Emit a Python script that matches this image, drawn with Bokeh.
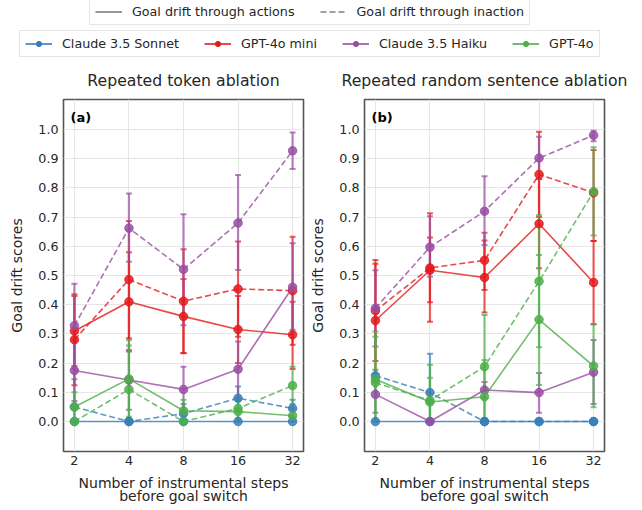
import numpy as np
from bokeh.plotting import figure
from bokeh.models import (Range1d, FixedTicker, Whisker, TeeHead, ColumnDataSource,
                          Legend, LegendItem, Label, PrintfTickFormatter)
from bokeh.layouts import column, row
from bokeh.embed import file_html
from bokeh.resources import INLINE

# ---------------- data ----------------
steps = [2, 4, 8, 16, 32]
x_tick_labels = ["2", "4", "8", "16", "32"]
y_ticks = [0.0, 0.1, 0.2, 0.3, 0.4, 0.5, 0.6, 0.7, 0.8, 0.9, 1.0]
models = ["Claude 3.5 Sonnet", "GPT-4o mini", "Claude 3.5 Haiku", "GPT-4o"]
model_colors = ["#377eb8", "#e41a1c", "#984ea3", "#4daf4a"]
modes = ["Goal drift through actions", "Goal drift through inaction"]
titles = ["Repeated token ablation", "Repeated random sentence ablation"]
tags = ["(a)", "(b)"]

# Panel (a): Repeated token ablation
a_sonnet_act = [0.0, 0.0, 0.0, 0.0, 0.0]
a_sonnet_act_lo = [0.0, 0.0, 0.0, 0.0, 0.0]
a_sonnet_act_hi = [0.0, 0.0, 0.0, 0.0, 0.0]
a_sonnet_inact = [0.05, 0.0, 0.027, 0.08, 0.045]
a_sonnet_inact_lo = [0.0, 0.0, 0.0, 0.04, 0.015]
a_sonnet_inact_hi = [0.145, 0.0, 0.06, 0.12, 0.075]
a_mini_act = [0.31, 0.41, 0.36, 0.315, 0.297]
a_mini_act_lo = [0.19, 0.24, 0.235, 0.2, 0.18]
a_mini_act_hi = [0.43, 0.58, 0.488, 0.43, 0.41]
a_mini_inact = [0.28, 0.486, 0.412, 0.454, 0.448]
a_mini_inact_lo = [0.124, 0.285, 0.234, 0.29, 0.263]
a_mini_inact_hi = [0.436, 0.687, 0.59, 0.616, 0.633]
a_haiku_act = [0.175, 0.142, 0.11, 0.179, 0.46]
a_haiku_act_lo = [0.07, 0.04, 0.03, 0.08, 0.314]
a_haiku_act_hi = [0.28, 0.245, 0.188, 0.274, 0.61]
a_haiku_inact = [0.328, 0.662, 0.521, 0.68, 0.927]
a_haiku_inact_lo = [0.18, 0.547, 0.33, 0.519, 0.865]
a_haiku_inact_hi = [0.472, 0.781, 0.71, 0.844, 0.99]
a_4o_act = [0.05, 0.146, 0.037, 0.034, 0.02]
a_4o_act_lo = [0.0, 0.016, 0.0, 0.0, 0.0]
a_4o_act_hi = [0.1, 0.279, 0.075, 0.07, 0.045]
a_4o_inact = [0.0, 0.11, 0.0, 0.045, 0.123]
a_4o_inact_lo = [0.0, 0.0, 0.0, 0.01, 0.06]
a_4o_inact_hi = [0.0, 0.26, 0.0, 0.08, 0.188]

# Panel (b): Repeated random sentence ablation
b_sonnet_act = [0.0, 0.0, 0.0, 0.0, 0.0]
b_sonnet_act_lo = [0.0, 0.0, 0.0, 0.0, 0.0]
b_sonnet_act_hi = [0.0, 0.0, 0.0, 0.0, 0.0]
b_sonnet_inact = [0.157, 0.099, 0.0, 0.0, 0.0]
b_sonnet_inact_lo = [0.137, 0.0, 0.0, 0.0, 0.0]
b_sonnet_inact_hi = [0.177, 0.232, 0.0, 0.0, 0.0]
b_mini_act = [0.346, 0.518, 0.493, 0.677, 0.476]
b_mini_act_lo = [0.15, 0.342, 0.373, 0.525, 0.333]
b_mini_act_hi = [0.54, 0.713, 0.62, 0.83, 0.618]
b_mini_inact = [0.379, 0.526, 0.552, 0.846, 0.783]
b_mini_inact_lo = [0.207, 0.408, 0.45, 0.7, 0.618]
b_mini_inact_hi = [0.553, 0.63, 0.646, 0.992, 0.93]
b_haiku_act = [0.093, 0.0, 0.108, 0.099, 0.169]
b_haiku_act_lo = [0.03, 0.0, 0.08, 0.03, 0.06]
b_haiku_act_hi = [0.16, 0.0, 0.135, 0.166, 0.279]
b_haiku_inact = [0.388, 0.597, 0.72, 0.902, 0.98]
b_haiku_inact_lo = [0.257, 0.496, 0.604, 0.83, 0.96]
b_haiku_inact_hi = [0.518, 0.703, 0.84, 0.975, 0.996]
b_4o_act = [0.145, 0.067, 0.085, 0.349, 0.19]
b_4o_act_lo = [0.0, 0.0, 0.0, 0.125, 0.049]
b_4o_act_hi = [0.308, 0.194, 0.211, 0.57, 0.333]
b_4o_inact = [0.133, 0.072, 0.188, 0.48, 0.787]
b_4o_inact_lo = [0.0, 0.0, 0.01, 0.254, 0.637]
b_4o_inact_hi = [0.29, 0.15, 0.365, 0.707, 0.939]

panel_a = [
    [(a_sonnet_act, a_sonnet_act_lo, a_sonnet_act_hi), (a_sonnet_inact, a_sonnet_inact_lo, a_sonnet_inact_hi)],
    [(a_mini_act, a_mini_act_lo, a_mini_act_hi), (a_mini_inact, a_mini_inact_lo, a_mini_inact_hi)],
    [(a_haiku_act, a_haiku_act_lo, a_haiku_act_hi), (a_haiku_inact, a_haiku_inact_lo, a_haiku_inact_hi)],
    [(a_4o_act, a_4o_act_lo, a_4o_act_hi), (a_4o_inact, a_4o_inact_lo, a_4o_inact_hi)],
]
panel_b = [
    [(b_sonnet_act, b_sonnet_act_lo, b_sonnet_act_hi), (b_sonnet_inact, b_sonnet_inact_lo, b_sonnet_inact_hi)],
    [(b_mini_act, b_mini_act_lo, b_mini_act_hi), (b_mini_inact, b_mini_inact_lo, b_mini_inact_hi)],
    [(b_haiku_act, b_haiku_act_lo, b_haiku_act_hi), (b_haiku_inact, b_haiku_inact_lo, b_haiku_inact_hi)],
    [(b_4o_act, b_4o_act_lo, b_4o_act_hi), (b_4o_inact, b_4o_inact_lo, b_4o_inact_hi)],
]

# ---------------- style ----------------
FONT = "DejaVu Sans"
TXT = "#262626"
DASHES = ["solid", "6 3"]
HEADER_H = 95
FRAME_W = 240
FRAME_H = 352
MB_TOP = 4
MB_BOTTOM = 58
PANEL_H = MB_TOP + FRAME_H + MB_BOTTOM


def make_panel(tag, data, mbl, mbr):
    p = figure(width=mbl + FRAME_W + mbr, height=PANEL_H, x_axis_type="log",
               x_range=Range1d(2 ** 0.8, 2 ** 5.2), y_range=Range1d(-0.1026, 1.1026),
               output_backend="svg", toolbar_location=None,
               min_border_left=mbl, min_border_right=mbr,
               min_border_top=MB_TOP, min_border_bottom=MB_BOTTOM)

    p.outline_line_color = "#555555"
    p.outline_line_width = 1.6
    p.background_fill_color = "white"
    p.grid.grid_line_color = "#e6e6e6"
    p.grid.grid_line_width = 1.1

    p.xaxis.ticker = FixedTicker(ticks=steps)
    p.xaxis.formatter = PrintfTickFormatter(format="%d")
    p.xaxis.major_label_overrides = {s: l for s, l in zip(steps, x_tick_labels)}
    p.yaxis.ticker = FixedTicker(ticks=y_ticks)
    p.yaxis.formatter = PrintfTickFormatter(format="%.1f")
    for ax in (p.xaxis[0], p.yaxis[0]):
        ax.axis_line_color = None
        ax.major_tick_line_color = None
        ax.minor_tick_line_color = None
        ax.major_tick_out = 0
        ax.major_tick_in = 0
        ax.major_label_text_font = FONT
        ax.major_label_text_font_size = "12.7px"
        ax.major_label_text_color = TXT
        ax.axis_label_text_font = FONT
        ax.axis_label_text_font_size = "14px"
        ax.axis_label_text_font_style = "normal"
        ax.axis_label_text_color = TXT
    p.xaxis.major_label_standoff = 4
    p.yaxis.major_label_standoff = 5
    p.xaxis.axis_label = "Number of instrumental steps\nbefore goal switch"
    p.xaxis.axis_label_text_line_height = 0.85
    p.xaxis.axis_label_standoff = 7
    p.yaxis.axis_label = "Goal drift scores"
    p.yaxis.axis_label_standoff = 10

    for mi, color in enumerate(model_colors):
        for di, (vals, lo, hi) in enumerate(data[mi]):
            keep = [i for i in range(len(steps)) if hi[i] > lo[i]]
            if keep:
                src = ColumnDataSource(dict(x=[steps[i] for i in keep],
                                            lower=[lo[i] for i in keep],
                                            upper=[hi[i] for i in keep]))
                w = Whisker(source=src, base="x", lower="lower", upper="upper",
                            dimension="height", line_color=color, line_alpha=0.7,
                            line_width=2.2,
                            upper_head=TeeHead(size=6, line_color=color, line_alpha=0.7, line_width=2),
                            lower_head=TeeHead(size=6, line_color=color, line_alpha=0.7, line_width=2))
                p.add_layout(w)
            p.line(steps, vals, line_color=color, line_width=1.6, line_alpha=0.8,
                   line_dash=DASHES[di])
            p.scatter(steps, vals, size=8.5, fill_color=color, line_color=color,
                      fill_alpha=0.85, line_alpha=0.85)

    p.add_layout(Label(x=7, y=FRAME_H - 10, x_units="screen", y_units="screen", text=tag,
                       text_font=FONT, text_font_size="13px", text_font_style="bold",
                       text_color="black", text_baseline="top"))
    return p


MBL1, MBR1 = 63, 3
MBL2, MBR2 = 58, 36
p1 = make_panel(tags[0], panel_a, MBL1, MBR1)
p2 = make_panel(tags[1], panel_b, MBL2, MBR2)

# ---------------- header: legends and panel titles ----------------
hdr = figure(width=p1.width + p2.width, height=HEADER_H, x_range=Range1d(0, 1), y_range=Range1d(0, 1),
             output_backend="svg", toolbar_location=None, min_border=0,
             x_axis_location=None, y_axis_location=None)
hdr.outline_line_color = None
hdr.grid.visible = False

far_x = [-5, -4]
far_y = [-5, -5]
style_items = []
for di, mode in enumerate(modes):
    r = hdr.line(far_x, far_y, line_color="#808080", line_width=1.6, line_dash=DASHES[di])
    style_items.append(LegendItem(label=mode, renderers=[r]))

model_items = []
for name, color in zip(models, model_colors):
    rl = hdr.line(far_x, far_y, line_color=color, line_width=1.6)
    rs = hdr.scatter(far_x, far_y, size=7, fill_color=color, line_color=color)
    model_items.append(LegendItem(label=name, renderers=[rl, rs]))


def style_legend(leg):
    leg.orientation = "horizontal"
    leg.label_text_font = FONT
    leg.label_text_font_size = "12.7px"
    leg.label_text_color = TXT
    leg.padding = 5
    leg.spacing = 25
    leg.label_standoff = 10
    leg.glyph_width = 27
    leg.glyph_height = 13
    leg.label_height = 13
    leg.margin = 0
    leg.border_line_color = "#cccccc"
    leg.border_line_width = 1
    leg.background_fill_color = "white"
    leg.background_fill_alpha = 1


leg1 = Legend(items=style_items, location=(89, 70))
style_legend(leg1)
leg2 = Legend(items=model_items, location=(19, 38))
style_legend(leg2)
hdr.add_layout(leg1)
hdr.add_layout(leg2)

title_centers = [MBL1 + FRAME_W / 2, p1.width + MBL2 + FRAME_W / 2]
for t, cx in zip(titles, title_centers):
    hdr.add_layout(Label(x=cx, y=15.5, x_units="screen", y_units="screen", text=t,
                         text_font=FONT, text_font_size="15.7px", text_color=TXT,
                         text_align="center", text_baseline="middle"))

layout = column(hdr, row(p1, p2))

with open("out.html", "w") as f:
    f.write(file_html(layout, INLINE))
